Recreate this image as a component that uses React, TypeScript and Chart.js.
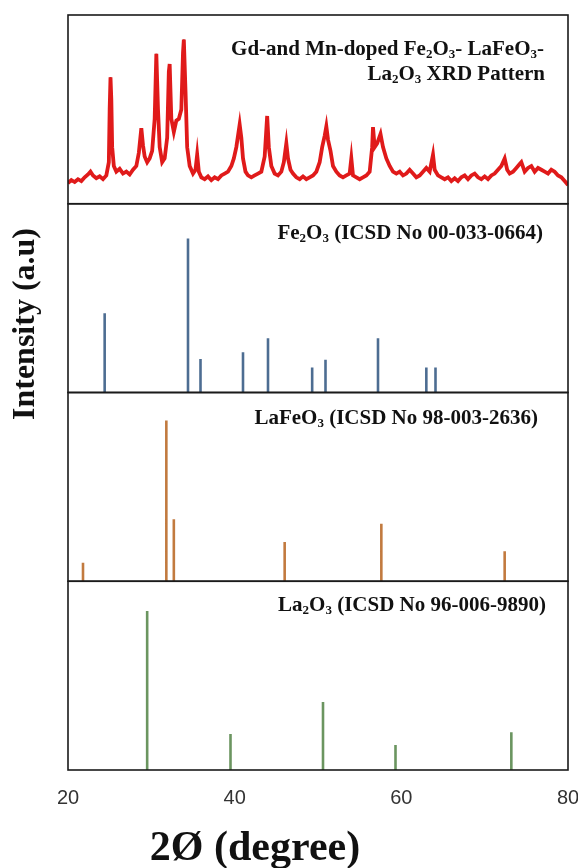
import React, { useEffect, useRef } from "react";
import { Chart, registerables } from "chart.js";

Chart.register(...registerables);

// ---------- data ----------
const patternTheta = [
  20.0, 20.4, 20.8, 21.2, 21.6, 22.0, 22.4, 22.7, 23.0, 23.4, 23.8, 24.2, 24.6, 24.9, 25.0, 25.1, 25.2, 25.3, 25.5, 25.8,
  26.2, 26.6, 27.0, 27.4, 27.8, 28.2, 28.5, 28.8, 29.0, 29.2, 29.5, 29.8, 30.1, 30.4, 30.6, 30.8, 31.0, 31.3, 31.6, 31.9,
  32.1, 32.2, 32.4, 32.7, 33.0, 33.3, 33.6, 33.8, 33.9, 34.1, 34.3, 34.6, 35.0, 35.3, 35.5, 35.7, 36.0, 36.4, 36.8, 37.2,
  37.6, 38.0, 38.4, 38.8, 39.2, 39.6, 39.9, 40.2, 40.6, 40.8, 41.0, 41.3, 41.6, 42.0, 42.4, 42.8, 43.2, 43.6, 43.9, 44.1,
  44.4, 44.8, 45.2, 45.6, 45.9, 46.2, 46.4, 46.7, 47.0, 47.4, 47.8, 48.2, 48.6, 49.0, 49.4, 49.8, 50.2, 50.5, 50.8, 51.0,
  51.2, 51.5, 51.8, 52.2, 52.6, 53.0, 53.4, 53.8, 54.0, 54.2, 54.6, 55.0, 55.4, 55.8, 56.2, 56.5, 56.6, 56.8, 57.1, 57.5,
  57.8, 58.2, 58.6, 59.0, 59.4, 59.8, 60.2, 60.6, 61.0, 61.4, 61.8, 62.2, 62.6, 63.0, 63.4, 63.8, 64.0, 64.4, 64.8, 65.2,
  65.6, 66.0, 66.4, 66.8, 67.2, 67.6, 68.0, 68.4, 68.8, 69.2, 69.6, 70.0, 70.4, 70.8, 71.2, 71.6, 72.0, 72.4, 72.7, 73.0,
  73.4, 73.8, 74.2, 74.4, 74.8, 75.2, 75.6, 76.0, 76.4, 76.8, 77.2, 77.6, 78.0, 78.4, 78.8, 79.2, 79.6, 80.0,
];
const patternIntensity = [
  11, 12.5, 11.5, 13, 12, 14, 15.5, 17, 15, 13.5, 14.5, 13, 15, 22, 50, 67, 55, 30, 20, 17,
  18.5, 16, 17, 15.5, 18, 20, 27, 40, 31, 25, 22, 24, 28, 45, 79.5, 50, 30, 22, 24, 35,
  70, 74, 45, 38, 44, 45, 50, 80, 87, 60, 30, 20, 16, 18, 26, 17, 14, 13, 14.5, 12.5,
  14, 13, 15, 16, 17, 20, 24, 30, 42, 35, 24, 17, 15, 14, 15, 16, 17, 25, 46.5, 30,
  20, 16, 15, 17, 22, 32, 24, 18, 16, 14, 13, 14.5, 13, 14, 15, 17, 22, 30, 36, 41,
  34, 28, 20, 17, 15, 14, 15, 16, 24, 15, 14, 13, 14, 15, 17, 30, 40.6, 30, 32, 37,
  30, 24, 20, 17, 16, 17, 15, 16, 18, 16, 14, 15, 17, 19, 17, 26, 18, 15, 14, 13,
  14, 12, 13.5, 12, 14, 15, 13, 15, 16, 14, 13, 14.5, 13, 15, 16, 18, 20, 24, 18, 16,
  17, 19, 21, 22, 17, 19, 20, 17, 19, 18, 17, 16, 18, 17, 15, 14, 12, 10,
];

const fe2o3Theta = [24.4, 34.4, 35.9, 41.0, 44.0, 49.3, 50.9, 57.2, 63.0, 64.1];
const fe2o3Intensity = [42, 81.6, 17.8, 21.3, 28.7, 13.2, 17.3, 28.7, 13.2, 13.2];

const lafeo3Theta = [21.8, 31.8, 32.7, 46.0, 57.6, 72.4];
const lafeo3Intensity = [9.8, 85.2, 32.8, 20.8, 30.4, 15.9];

const la2o3Theta = [29.5, 39.5, 50.6, 59.3, 73.2];
const la2o3Intensity = [84.2, 19.1, 36, 13.3, 20];

const xTickValues = [20, 40, 60, 80];

const panelLabel1 = ["Gd-and Mn-doped Fe_2O_3- LaFeO_3-", "La_2O_3 XRD Pattern"];
const panelLabel2 = ["Fe_2O_3 (ICSD No 00-033-0664)"];
const panelLabel3 = ["LaFeO_3 (ICSD No 98-003-2636)"];
const panelLabel4 = ["La_2O_3 (ICSD No 96-006-9890)"];

const xTitle = "2Ø (degree)";
const yTitle = "Intensity (a.u)";

// ---------- helpers ----------
function sticks(theta: number[], inten: number[]) {
  const pts: { x: number; y: number | null }[] = [];
  theta.forEach((t, i) => {
    pts.push({ x: t, y: 0 });
    pts.push({ x: t, y: inten[i] });
    pts.push({ x: t, y: null });
  });
  return pts;
}

const SERIF = '"Liberation Serif", "Times New Roman", serif';

function drawRich(ctx: CanvasRenderingContext2D, text: string, rightX: number, baseY: number, size: number) {
  const parts = text.split(/_(\d)/);
  const mainFont = `bold ${size}px ${SERIF}`;
  const subFont = `bold ${Math.round(size * 0.62)}px ${SERIF}`;
  const segs = parts.map((p, i) => ({ t: p, sub: i % 2 === 1 }));
  let total = 0;
  const widths = segs.map((s) => {
    ctx.font = s.sub ? subFont : mainFont;
    const w = ctx.measureText(s.t).width;
    total += w;
    return w;
  });
  let x = rightX - total;
  ctx.textAlign = "left";
  ctx.textBaseline = "alphabetic";
  ctx.fillStyle = "#111";
  segs.forEach((s, i) => {
    ctx.font = s.sub ? subFont : mainFont;
    ctx.fillText(s.t, x, s.sub ? baseY + 3 : baseY);
    x += widths[i];
  });
}

const panelPlugin = {
  id: "panelDecor",
  afterDatasetsDraw(chart: any) {
    const ctx: CanvasRenderingContext2D = chart.ctx;
    const area = chart.chartArea;
    const ids = ["y1", "y2", "y3", "y4"];
    ctx.save();
    ctx.strokeStyle = "#1a1a1a";
    ctx.lineWidth = 1.6;
    ids.forEach((id) => {
      const s = chart.scales[id];
      ctx.strokeRect(area.left, s.top, area.right - area.left, s.bottom - s.top);
    });
    const labels = [panelLabel1, panelLabel2, panelLabel3, panelLabel4];
    const rightOff = [[24, 23], [25], [30], [22]];
    const baseOff = [[40, 65], [35], [31], [30]];
    labels.forEach((lines, k) => {
      const s = chart.scales[ids[k]];
      lines.forEach((ln, j) => {
        drawRich(ctx, ln, area.right - rightOff[k][j], s.top + baseOff[k][j], 21);
      });
    });
    // axis titles
    ctx.fillStyle = "#111";
    ctx.font = `bold 42px ${SERIF}`;
    ctx.textAlign = "center";
    ctx.textBaseline = "alphabetic";
    ctx.fillText(xTitle, area.left + 187, 860);
    ctx.save();
    ctx.translate(26, 324);
    ctx.rotate(-Math.PI / 2);
    ctx.font = `bold 32px ${SERIF}`;
    ctx.textBaseline = "middle";
    ctx.fillText(yTitle, 0, 0);
    ctx.restore();
    ctx.restore();
  },
};

export default function App() {
  const ref = useRef<HTMLCanvasElement | null>(null);
  useEffect(() => {
    if (!ref.current) return;
    const pattern = patternTheta.map((t, i) => ({ x: t, y: patternIntensity[i] }));
    const yScale = (stack: string) => ({
      type: "linear" as const,
      display: false,
      min: 0,
      max: 100,
      stack,
      stackWeight: 1,
    });
    const chart = new Chart(ref.current, {
      type: "line",
      data: {
        datasets: [
          { data: pattern, yAxisID: "y1", borderColor: "#e01a1a", borderWidth: 3.8, pointRadius: 0, tension: 0 },
          { data: pattern, yAxisID: "y1", borderColor: "#8a0c0c", borderWidth: 1.8, pointRadius: 0, tension: 0 },
          { data: sticks(fe2o3Theta, fe2o3Intensity), yAxisID: "y2", borderColor: "#4d6d92", borderWidth: 2.6, pointRadius: 0, spanGaps: false },
          { data: sticks(lafeo3Theta, lafeo3Intensity), yAxisID: "y3", borderColor: "#c27a3f", borderWidth: 2.6, pointRadius: 0, spanGaps: false },
          { data: sticks(la2o3Theta, la2o3Intensity), yAxisID: "y4", borderColor: "#6b9560", borderWidth: 2.6, pointRadius: 0, spanGaps: false },
        ],
      },
      options: {
        animation: false,
        responsive: false,
        layout: { padding: { left: 68, right: 10, top: 15, bottom: 0 } },
        plugins: { legend: { display: false }, tooltip: { enabled: false } },
        scales: {
          x: {
            type: "linear",
            position: "bottom",
            min: 20,
            max: 80,
            afterBuildTicks: (s: any) => {
              s.ticks = xTickValues.map((v) => ({ value: v }));
            },
            afterFit: (s: any) => {
              s.height = 98;
              s.paddingRight = 0;
              s.paddingLeft = 0;
            },
            grid: { display: false },
            border: { display: false },
            ticks: {
              color: "#333",
              font: { family: '"Liberation Sans", Arial, sans-serif', size: 20 },
              padding: 8,
              maxRotation: 0,
            },
          },
          y4: yScale("s"),
          y3: yScale("s"),
          y2: yScale("s"),
          y1: yScale("s"),
        },
      } as any,
      plugins: [panelPlugin],
    });
    return () => chart.destroy();
  }, []);
  return (
    <div style={{ position: "absolute", left: 0, top: 0, width: 578, height: 868, background: "#fff" }}>
      <canvas ref={ref} width={578} height={868} style={{ width: 578, height: 868 }} />
    </div>
  );
}
